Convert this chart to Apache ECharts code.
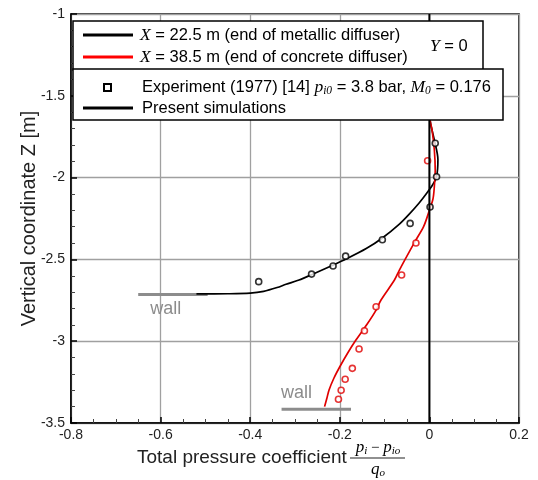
<!DOCTYPE html>
<html><head><meta charset="utf-8">
<script src="https://cdn.jsdelivr.net/npm/echarts@6/dist/echarts.min.js"></script>
<style>html,body{margin:0;padding:0;background:#fff}#c{width:538px;height:480px}</style>
</head><body><div id="c"></div>
<script>
// ---- data ----
const xTicks = [-0.8, -0.6, -0.4, -0.2, 0, 0.2];
const yTicks = [-3.5, -3, -2.5, -2, -1.5, -1];

// Present simulations, X = 22.5 m (end of metallic diffuser)
const simMetallic = [
  [-0.52,-2.711],[-0.45,-2.710],[-0.40,-2.706],[-0.37,-2.695],[-0.34,-2.672],
  [-0.32,-2.652],[-0.291,-2.626],[-0.262,-2.592],[-0.217,-2.537],[-0.186,-2.498],
  [-0.141,-2.434],[-0.105,-2.369],[-0.067,-2.284],[-0.045,-2.223],[-0.022,-2.152],
  [-0.004,-2.088],[0.007,-2.045],[0.016,-1.995],[0.019,-1.89],[0.011,-1.77],
  [0.002,-1.658],[0.0,-1.55]
];
// Present simulations, X = 38.5 m (end of concrete diffuser)
const simConcrete = [
  [-0.234,-3.40],[-0.229,-3.35],[-0.224,-3.298],[-0.213,-3.225],[-0.200,-3.156],
  [-0.183,-3.075],[-0.164,-2.993],[-0.140,-2.90],[-0.119,-2.81],[-0.108,-2.748],
  [-0.078,-2.626],[-0.067,-2.565],[-0.032,-2.39],[-0.013,-2.30],[0.0,-2.2],
  [0.008,-2.13],[0.011,-2.056],[0.013,-1.954],[0.011,-1.83],[0.006,-1.71],
  [0.002,-1.658],[0.0,-1.55]
];
// Experiment (1977)
const expMetallic = [
  [0.013,-1.79],[0.016,-1.995],[0.0015,-2.18],[-0.043,-2.28],[-0.105,-2.38],
  [-0.187,-2.48],[-0.215,-2.54],[-0.263,-2.59],[-0.381,-2.636]
];
const expConcrete = [
  [-0.004,-1.897],[-0.03,-2.40],[-0.062,-2.595],[-0.119,-2.789],[-0.145,-2.936],
  [-0.157,-3.048],[-0.172,-3.166],[-0.188,-3.233],[-0.197,-3.30],[-0.203,-3.355]
];
const wallUpper = [[-0.65,-2.715],[-0.495,-2.715]];
const wallLower = [[-0.33,-3.416],[-0.175,-3.416]];
const zeroLine = [[0,-3.5],[0,-1]];
const wallLabelUpper = [-0.623, -2.715];
const wallLabelLower = [-0.331, -3.416];

// ---- chart ----
const chart = echarts.init(document.getElementById('c'));
const FONT = 'Liberation Sans, Arial, sans-serif';
const SERIF = 'Liberation Serif, DejaVu Serif, serif';
const gridColor = '#a0a0a0';

const option = {
  animation: false,
  backgroundColor: '#fff',
  grid: { left: 71, right: 19, top: 14, bottom: 57, show: true, borderColor: '#000', borderWidth: 1.5, backgroundColor: 'transparent' },
  xAxis: {
    type: 'value', min: xTicks[0], max: xTicks[xTicks.length-1], interval: 0.2,
    axisLine: { show: true, onZero: false, lineStyle: { color: '#000', width: 1.5 } },
    axisTick: { show: true, inside: true, length: 6, lineStyle: { color: '#000', width: 1.5 } },
    minorTick: { show: true, splitNumber: 4, length: 4, lineStyle: { color: '#444', width: 1 } },
    splitLine: { show: true, lineStyle: { color: gridColor, width: 1.3 } },
    axisLabel: { color: '#222', fontFamily: FONT, fontSize: 14, margin: 5,
      formatter: v => { const r = Math.round(v*10)/10; return r === 0 ? '0' : String(r); } }
  },
  yAxis: {
    type: 'value', min: yTicks[0], max: yTicks[yTicks.length-1], interval: 0.5,
    axisLine: { show: true, onZero: false, lineStyle: { color: '#000', width: 1.5 } },
    axisTick: { show: true, inside: true, length: 6, lineStyle: { color: '#000', width: 1.5 } },
    minorTick: { show: true, splitNumber: 5, length: 4, lineStyle: { color: '#444', width: 1 } },
    splitLine: { show: true, lineStyle: { color: gridColor, width: 1.3 } },
    axisLabel: { color: '#222', fontFamily: FONT, fontSize: 14, margin: 6,
      formatter: v => String(Math.round(v*10)/10) },
    name: 'Vertical coordinate Z [m]', nameLocation: 'middle', nameGap: 32, nameMoveOverlap: false,
    nameTextStyle: { fontFamily: FONT, fontSize: 20, color: '#222' }
  },
  series: [
    { type: 'line', data: wallUpper, symbol: 'none', lineStyle: { color: '#8c8c8c', width: 3 }, z: 2 },
    { type: 'line', data: wallLower, symbol: 'none', lineStyle: { color: '#8c8c8c', width: 3 }, z: 2 },
    { type: 'line', data: simMetallic, symbol: 'none', smooth: 0.3, lineStyle: { color: '#000', width: 1.7 }, z: 4 },
    { type: 'line', data: simConcrete, symbol: 'none', smooth: 0.3, lineStyle: { color: '#e00000', width: 1.7 }, z: 4 },
    { type: 'scatter', data: expMetallic, symbol: 'circle', symbolSize: 6,
      itemStyle: { color: '#fff', borderColor: '#000', borderWidth: 1.6 }, z: 5 },
    { type: 'scatter', data: expConcrete, symbol: 'circle', symbolSize: 6,
      itemStyle: { color: '#fff', borderColor: '#e00000', borderWidth: 1.6 }, z: 5 },
    { type: 'line', data: zeroLine, symbol: 'none', lineStyle: { color: '#000', width: 2 }, z: 6 }
  ]
};
chart.setOption(option);

const pU = chart.convertToPixel({ gridIndex: 0 }, wallLabelUpper);
const pL = chart.convertToPixel({ gridIndex: 0 }, wallLabelLower);

const legendRich = {
  i: { fontFamily: SERIF, fontStyle: 'italic', fontSize: 17.5, lineHeight: 20, color: '#111' },
  n: { fontFamily: FONT, fontSize: 16.5, lineHeight: 20, color: '#111' },
  s: { fontFamily: SERIF, fontStyle: 'italic', fontSize: 11.5, lineHeight: 11, verticalAlign: 'bottom', color: '#111' }
};

chart.setOption({
  graphic: [
    { type: 'text', x: pU[0], y: pU[1] + 5, z: 10, style: { text: 'wall', fill: '#8c8c8c', font: '18px ' + FONT, textVerticalAlign: 'top' } },
    { type: 'text', x: pL[0], y: pL[1] - 7, z: 10, style: { text: 'wall', fill: '#8c8c8c', font: '18px ' + FONT, textVerticalAlign: 'bottom' } },
    // legend box 1
    { type: 'rect', z: 100, shape: { x: 73, y: 21, width: 410, height: 49 }, style: { fill: '#fff', stroke: '#000', lineWidth: 1.5 } },
    { type: 'line', z: 101, shape: { x1: 83, y1: 35, x2: 133, y2: 35 }, style: { stroke: '#000', lineWidth: 3 } },
    { type: 'line', z: 101, shape: { x1: 83, y1: 57, x2: 133, y2: 57 }, style: { stroke: '#ff0000', lineWidth: 3 } },
    { type: 'text', z: 101, x: 140, y: 35, style: { text: '{i|X}{n| = 22.5 m (end of metallic diffuser)}', rich: legendRich, verticalAlign: 'middle', align: 'left' } },
    { type: 'text', z: 101, x: 140, y: 57, style: { text: '{i|X}{n| = 38.5 m (end of concrete diffuser)}', rich: legendRich, verticalAlign: 'middle', align: 'left' } },
    { type: 'text', z: 101, x: 430, y: 46, style: { text: '{i|Y}{n| = 0}', rich: legendRich, verticalAlign: 'middle', align: 'left' } },
    // legend box 2
    { type: 'rect', z: 102, shape: { x: 73, y: 69, width: 430, height: 51 }, style: { fill: '#fff', stroke: '#000', lineWidth: 1.5 } },
    { type: 'rect', z: 103, shape: { x: 104, y: 84, width: 7, height: 7 }, style: { fill: '#fff', stroke: '#000', lineWidth: 2 } },
    { type: 'text', z: 103, x: 142, y: 87, style: { text: '{n|Experiment (1977) [14] }{i|p}{s|i0}{n| = 3.8 bar, }{i|M}{s|0}{n| = 0.176}', rich: legendRich, verticalAlign: 'middle', align: 'left' } },
    { type: 'line', z: 103, shape: { x1: 83, y1: 108, x2: 133, y2: 108 }, style: { stroke: '#000', lineWidth: 3 } },
    { type: 'text', z: 103, x: 142, y: 108, style: { text: '{n|Present simulations}', rich: legendRich, verticalAlign: 'middle', align: 'left' } },
    // x axis title with fraction
    { type: 'text', x: 137, y: 458, style: { text: 'Total pressure coefficient', fill: '#222', font: '19px ' + FONT, verticalAlign: 'middle', align: 'left' } },
    { type: 'text', x: 378, y: 448, style: { text: '{i|p}{s|i}{m| − }{i|p}{s|io}', rich: {
        i: { fontFamily: SERIF, fontStyle: 'italic', fontSize: 17, lineHeight: 18, color: '#222' },
        m: { fontFamily: SERIF, fontSize: 15, lineHeight: 18, color: '#222' },
        s: { fontFamily: SERIF, fontStyle: 'italic', fontSize: 11, lineHeight: 11, verticalAlign: 'bottom', color: '#222' } },
      verticalAlign: 'middle', align: 'center' } },
    { type: 'line', shape: { x1: 350, y1: 458, x2: 405, y2: 458 }, style: { stroke: '#222', lineWidth: 1.2 } },
    { type: 'text', x: 378, y: 470, style: { text: '{i|q}{s|o}', rich: {
        i: { fontFamily: SERIF, fontStyle: 'italic', fontSize: 17, lineHeight: 18, color: '#222' },
        s: { fontFamily: SERIF, fontStyle: 'italic', fontSize: 11, lineHeight: 11, verticalAlign: 'bottom', color: '#222' } },
      verticalAlign: 'middle', align: 'center' } }
  ]
});
</script>
</body></html>
